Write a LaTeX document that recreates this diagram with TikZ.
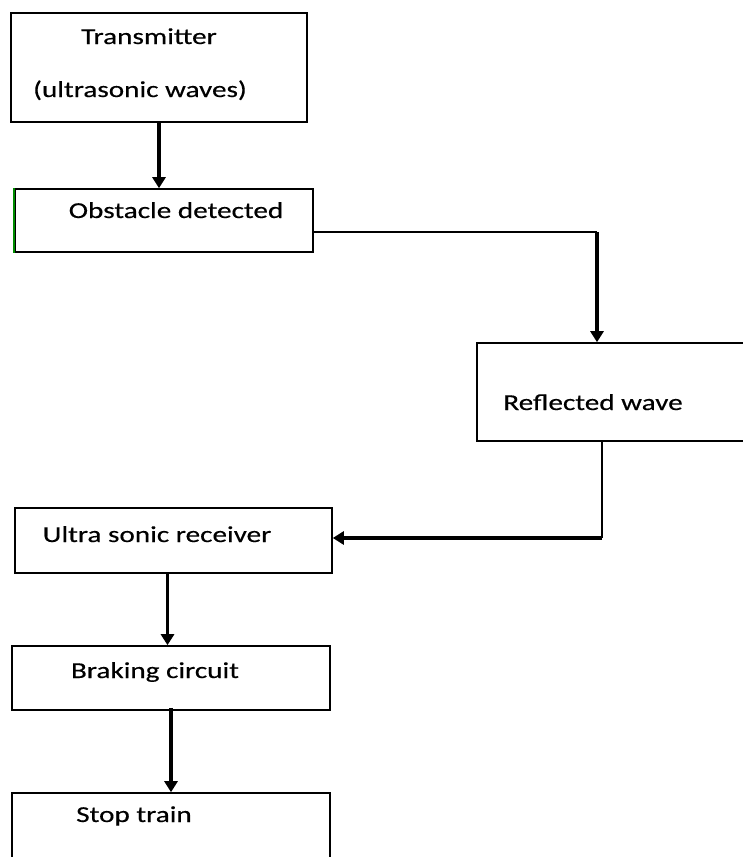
\documentclass[tikz,border=0pt]{standalone}
\usepackage{fontspec}
\setmainfont{Carlito}[FakeStretch=1.28,FakeBold=0.4]
\usepackage{tikz}
\usetikzlibrary{arrows.meta, positioning, calc}

\tikzset{
  blockbox/.style={draw, line width=1.6pt, inner sep=0pt},
  label txt/.style={anchor=base, inner sep=0pt, font=\fontsize{22.8}{27}\selectfont},
  thinline/.style={line width=1.4pt},
  flowarrow/.style={line width=3.4pt, -{Triangle[length=11pt,width=13pt]}}
}

\begin{document}
\begin{tikzpicture}[x=1pt,y=-1pt]
\useasboundingbox (0,0) rectangle (743,857);
\clip (0,0) rectangle (743,857);
% boxes
\node[blockbox, minimum width=296pt, minimum height=109pt] (tx) at (159,67.5) {};
\node[blockbox, minimum width=298pt, minimum height=63pt] (obs) at (164,220.5) {};
\draw[line width=1.6pt, green!55!black] (obs.south west) -- (obs.north west);
\node[blockbox, minimum width=286pt, minimum height=98pt] (refl) at (620,392) {};
\node[blockbox, minimum width=317pt, minimum height=65pt] (rcv) at (173.5,540.5) {};
\node[blockbox, minimum width=318pt, minimum height=64pt] (brk) at (171,678) {};
\node[blockbox, minimum width=318pt, minimum height=87pt] (stop) at (171,836.5) {};
% texts
\node[label txt] (txname) at (149,44) {Transmitter};
\node[label txt] (txwave) at (140,97) {(ultrasonic waves)};
\node[label txt] (obsname) at (176,218) {Obstacle detected};
\node[label txt] (reflname) at (593,410) {Reflected wave};
\node[label txt] (rcvname) at (157,542) {Ultra sonic receiver};
\node[label txt] (brkname) at (155,678) {Braking circuit};
\node[label txt] (stopname) at (134,822) {Stop train};
% connectors
\coordinate (bendA) at (597,232);
\coordinate (bendB) at (602,538);
\draw[flowarrow] (tx.south) -- (tx.south |- obs.north);
\draw[thinline] (bendA -| obs.east) -- (bendA);
\draw[flowarrow] (bendA) -- (bendA |- refl.north);
\draw[thinline] (bendB |- refl.south) -- (bendB);
\draw[flowarrow] (bendB) -- (bendB -| rcv.east);
\draw[flowarrow] ([xshift=-6pt]rcv.south) -- ([xshift=-6pt]rcv.south |- brk.north);
\draw[flowarrow] ([yshift=3pt]brk.south) -- (brk.south |- stop.north);
\end{tikzpicture}
\end{document}
